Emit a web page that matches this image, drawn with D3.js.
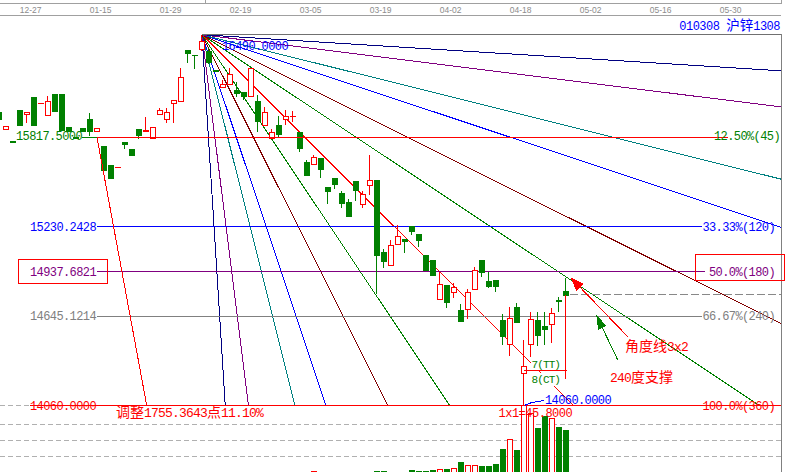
<!DOCTYPE html>
<html>
<head>
<meta charset="utf-8">
<script src="https://cdn.jsdelivr.net/npm/d3@7"></script>
<style>
  html, body { margin: 0; padding: 0; background: #fff; overflow: hidden; }
  text { white-space: pre; }
</style>
</head>
<body>
<svg id="chart" width="787" height="472"></svg>
<script>
// ---- data: SHFE zinc 1308 daily bars (first bar index is -1) ----
const firstBar = -1;
const open  = [15980,15870,15790,15995,15970,16080,16045,15965,16100,16100,15885,15820,15880,15935,15860,15760,15635,15620,15785,15740,15870,15860,15810,15970,15940,16045,16055,16390,16360,16395,16380,16260,16150,16170,16125,16115,16085,16055,15895,15815,15895,15935,15955,15850,15655,15645,15680,15490,15550,15450,15395,15530,15380,15505,15535,15065,14980,15120,15150,15235,15185,15045,15010,14755,14850,14805,14685,14690,14820,15015,14875,14880,14620,14460,14705,14270,14460,14620,14580,14590,14750,14810];
const high  = [15990,15890,15790,15995,15980,16080,16045,16090,16100,16100,15885,15820,15880,15975,15875,15760,15635,15620,15785,15740,15870,15950,15885,16010,16010,16060,16270,16390,16360,16490,16405,16260,16195,16270,16180,16115,16270,16095,16015,15870,15955,15995,15990,15850,15670,15700,15680,15490,15550,15465,15415,15530,15465,15700,15535,15085,15145,15240,15150,15235,15185,15045,15010,14935,14850,14860,14725,14820,14965,15015,14935,14880,14660,14705,14730,14490,14675,14675,14675,14695,14770,14895];
const low   = [15925,15870,15785,15895,15915,15900,16045,15965,15990,15865,15860,15815,15860,15830,15860,15590,15550,15620,15745,15700,15810,15860,15810,15970,15915,15920,16055,16310,16270,16390,16305,16255,16145,16170,16085,16070,16085,15860,15895,15815,15825,15905,15925,15725,15570,15645,15560,15385,15485,15360,15300,15405,15360,15445,14795,14970,14980,15120,15065,15185,15105,14950,14915,14755,14705,14770,14615,14630,14820,14910,14835,14810,14465,14390,14605,14060,14380,14455,14460,14475,14680,14785];
const close = [15935,15890,15785,15895,15980,15900,16045,16055,15990,15865,15860,15815,15860,15860,15875,15600,15550,15620,15775,15700,15835,15865,15885,15995,15985,16060,16210,16370,16355,16450,16310,16255,16170,16235,16105,16085,16270,15925,15985,15850,15840,15955,15955,15745,15570,15685,15610,15465,15510,15385,15300,15470,15445,15535,15045,15005,15110,15170,15135,15205,15145,14950,14915,14855,14735,14835,14615,14800,14950,14935,14845,14845,14515,14630,14605,14320,14625,14520,14560,14665,14745,14785];
const volume = [0,0,0,0,0,0,0,0,0,0,0,0,0,0,0,0,0,0,0,0,0,0,0,0,0,0,0,0,0,0,0,0,0,0,0,0,0,0,0,0,0,0,0,0,0,300,0,0,0,0,0,0,0,0,300,300,0,0,0,600,300,400,700,800,1000,1200,3100,2100,2100,1900,1900,2500,6900,9900,6600,20100,17600,13300,16900,16100,13600,12600];

// date axis
const tickBars   = [3, 13, 23, 33, 43, 53, 63, 73, 83, 93, 103];
const tickLabels = ["12-27","01-15","01-29","02-19","03-05","03-19","04-02","04-18","05-02","05-16","05-30"];
const volumeTicks = [4800, 9600, 14400];

// Gann fan from the swing high
const apexBar = 28, apexPrice = 16490, lowPrice = 14060, lowBar = 74;
const unit = 45.8;                       // 1x1 = price per bar
const fanRatios = [16, 8, 4, 3, 2, 1.5, 1, 2/3, 1/2, 1/3, 1/4, 1/8, 1/16, 0];
const fanColors = ["#000080","#800080","#008080","#0000ff","#800000","#008000","#ff0000","#008000","#800000","#0000ff","#008080","#800080","#000080","#707070"];

// retracement levels
const levelValues = [15817.5, 15230.2428, 14937.6821, 14645.1214, 14060];
const levelTags   = ["12.50%(45)", "33.33%(120)", "50.0%(180)", "66.67%(240)", "100.0%(360)"];
const levelColors = ["#008000", "#0000ff", "#800080", "#808080", "#ff0000"];

// pullback measurement
const adjStart = [13, 15817.5], adjEnd = [20.1, 14060];
const adjPoints = 1755.3643, adjPct = 11.10;

// time count box from the low
const countEndBar = 80, countLinePrice = 14291, countBottomPrice = 14230;
const countTags = ["7(TT)", "8(CT)"];

// notes
const redArrow   = { tail: [88.86, 14508], tip: [80.79, 14892] };
const greenArrow = { tail: [87.36, 14360], tip: [84.43, 14642] };
const lowLeader  = [[74.1, 14060], [75.1, 14078], [76.85, 14091]];

const title = "010308 沪锌1308";

// ---- drawing ----
const svg = d3.select("#chart");
const W = 787, H = 472;
const RED = "#ff0000", GREEN = "#008000", BLUE = "#0000ff";

const x = d3.scaleLinear().domain([0, 110]).range([6, 776]);
const y = d3.scaleLinear().domain([lowPrice, apexPrice]).range([405.3, 34.7]);
const vy = d3.scaleLinear().domain([0, 20100]).range([472, 405]);
const px = v => Math.round(v - 0.5) + 0.5;
const rightEdge = 781;
const rightBar = x.invert(rightEdge);

svg.append("rect").attr("width", W).attr("height", H).attr("fill", "#fff");

// text with separate sizing for CJK and Latin runs
function mixed(sel, str, o) {
  const t = sel.append("text")
    .attr("x", o.x).attr("y", o.y)
    .attr("fill", o.fill)
    .attr("text-anchor", o.anchor || "start");
  const runs = str.match(/[\u3000-\u9fff]+|[^\u3000-\u9fff]+/g);
  runs.forEach(r => {
    const cjk = /[\u3000-\u9fff]/.test(r);
    t.append("tspan").text(r)
      .attr("font-family", cjk ? "'Noto Sans CJK SC', sans-serif" : "'Liberation Mono', monospace")
      .attr("font-size", cjk ? o.cjk : o.size)
      .attr("letter-spacing", cjk ? 0 : (o.ls || 0));
  });
  return t;
}

// frame
const frame = svg.append("g").attr("shape-rendering", "crispEdges");
frame.append("line").attr("x1", 0).attr("x2", rightEdge).attr("y1", 3.5).attr("y2", 3.5).attr("stroke", "#a0a0a0");
frame.append("line").attr("x1", 0).attr("x2", rightEdge).attr("y1", 15.5).attr("y2", 15.5).attr("stroke", "#a0a0a0");
frame.append("line").attr("x1", 205.5).attr("x2", 205.5).attr("y1", 0).attr("y2", 3.5).attr("stroke", "#a0a0a0");
frame.append("line").attr("x1", rightEdge + 0.5).attr("x2", rightEdge + 0.5).attr("y1", 0).attr("y2", 3.5).attr("stroke", "#a0a0a0");
frame.append("line").attr("x1", rightEdge + 0.5).attr("x2", rightEdge + 0.5).attr("y1", 34).attr("y2", H).attr("stroke", "#808080");

// date axis labels
svg.append("g").selectAll("text").data(tickBars).join("text")
  .attr("x", d => x(d) + 3.7).attr("y", 13)
  .attr("text-anchor", "middle")
  .attr("font-family", "'Liberation Sans', Arial, sans-serif")
  .attr("font-size", 8.5).attr("fill", "#8c8c8c")
  .text((d, i) => tickLabels[i]);

mixed(svg, title, { x: 780, y: 30, anchor: "end", fill: BLUE, size: 12, ls: -0.5, cjk: 13.5 });

// volume grid
const vgrid = svg.append("g").attr("shape-rendering", "crispEdges");
[405.3].concat(volumeTicks.map(vy)).forEach(v => {
  vgrid.append("line").attr("x1", 0).attr("x2", rightEdge).attr("y1", px(v)).attr("y2", px(v))
    .attr("stroke", "#b0b0b0").attr("stroke-dasharray", "5,3");
});

// Gann fan
const fan = svg.append("g").attr("shape-rendering", "crispEdges");
fanRatios.forEach((r, k) => {
  let endBar = rightBar;
  if (r > 0) endBar = Math.min(rightBar, apexBar + (apexPrice - lowPrice) / (unit * r));
  const endPrice = apexPrice - unit * r * (endBar - apexBar);
  fan.append("line")
    .attr("x1", x(apexBar)).attr("y1", r === 0 ? px(y(apexPrice)) : y(apexPrice))
    .attr("x2", x(endBar)).attr("y2", r === 0 ? px(y(endPrice)) : y(endPrice))
    .attr("stroke", fanColors[k]);
});

// retracement levels (the 12.5% level is mostly covered by the pullback line)
const lv = svg.append("g").attr("shape-rendering", "crispEdges");
const fmt4 = d3.format(".4f");
const levelLayout = [
  { lx: 16, from: 82, to: 97, tagEnd: 780, dy: 3 },
  { lx: 30, from: 97, to: 701.5, tagEnd: 775, dy: 4.4 },
  { lx: 30, from: 97, to: 705, tagEnd: 775, dy: 4.6 },
  { lx: 30, from: 97, to: 701.5, tagEnd: 775, dy: 4.4 },
  { lx: 30, from: 30, to: rightEdge, tagEnd: 775, dy: 4.6 }
];
levelValues.forEach((v, i) => {
  const L = levelLayout[i], yy = px(y(v));
  lv.append("line").attr("x1", L.from).attr("x2", L.to).attr("y1", yy).attr("y2", yy).attr("stroke", levelColors[i]);
});

// last close reference
lv.append("line").attr("x1", x(80) + 4).attr("x2", rightEdge)
  .attr("y1", px(y(close[close.length - 1]))).attr("y2", px(y(close[close.length - 1])))
  .attr("stroke", "#888").attr("stroke-dasharray", "8,3");

// candles
const bars = d3.range(open.length).map(k => ({
  i: k + firstBar, o: open[k], h: high[k], l: low[k], c: close[k], v: volume[k]
}));
const cg = svg.append("g").attr("shape-rendering", "crispEdges");
bars.forEach(b => {
  const xc = Math.round(x(b.i));
  const up = b.c >= b.o;
  const col = up ? RED : GREEN;
  cg.append("line").attr("x1", xc - 0.5).attr("x2", xc - 0.5)
    .attr("y1", Math.round(y(b.h))).attr("y2", Math.round(y(b.l)) + 1).attr("stroke", col);
  const t = Math.round(y(Math.max(b.o, b.c))), bt = Math.round(y(Math.min(b.o, b.c)));
  if (bt - t < 1) {
    cg.append("line").attr("x1", xc - 3).attr("x2", xc + 3).attr("y1", t + 0.5).attr("y2", t + 0.5).attr("stroke", col);
  } else {
    cg.append("rect").attr("x", xc - 2.5).attr("y", t + 0.5).attr("width", 5).attr("height", bt - t)
      .attr("fill", up ? "#fff" : GREEN).attr("stroke", col);
  }
  // volume
  if (b.v > 0) {
    const vt = Math.round(vy(b.v)), hgt = H - vt;
    if (hgt <= 2) {
      cg.append("rect").attr("x", xc - 3).attr("y", vt).attr("width", 6).attr("height", Math.max(hgt, 1)).attr("fill", col);
    } else {
      cg.append("rect").attr("x", xc - 2.5).attr("y", vt + 0.5).attr("width", 5).attr("height", hgt + 2)
        .attr("fill", up ? "#fff" : GREEN).attr("stroke", col);
    }
  }
});

// pullback measurement lines, drawn above the bars
const adj = svg.append("g").attr("shape-rendering", "crispEdges");
adj.append("line").attr("x1", x(adjStart[0])).attr("x2", 728)
  .attr("y1", px(y(adjStart[1]))).attr("y2", px(y(adjStart[1])))
  .attr("stroke", RED);
adj.append("line").attr("x1", x(adjStart[0])).attr("y1", y(adjStart[1]))
  .attr("x2", x(adjEnd[0])).attr("y2", y(adjEnd[1])).attr("stroke", RED);

// the 100% line runs over the volume tops
adj.append("line")
  .attr("x1", 30).attr("x2", rightEdge).attr("y1", px(y(lowPrice))).attr("y2", px(y(lowPrice))).attr("stroke", RED);

// time count box
const tc = svg.append("g").attr("shape-rendering", "crispEdges");
const cy = px(y(countLinePrice));
tc.append("line").attr("x1", x(lowBar)).attr("x2", x(countEndBar) + 0.5).attr("y1", cy).attr("y2", cy).attr("stroke", RED);
tc.append("line").attr("x1", x(countEndBar) - 0.5).attr("x2", x(countEndBar) - 0.5)
  .attr("y1", Math.round(y(close[close.length - 1]))).attr("y2", Math.round(y(countBottomPrice))).attr("stroke", RED);
const midX = x((lowBar + countEndBar) / 2) + 0.8;
tc.append("rect").attr("x", 531).attr("y", cy - 13).attr("width", 29).attr("height", 12.5).attr("fill", "#fff");
tc.append("rect").attr("x", 531).attr("y", cy + 2).attr("width", 29).attr("height", 13).attr("fill", "#fff");
mixed(svg, countTags[0], { x: midX, y: cy - 3, anchor: "middle", fill: GREEN, size: 11, ls: -0.9, cjk: 11 });
mixed(svg, countTags[1], { x: midX, y: cy + 12, anchor: "middle", fill: GREEN, size: 11, ls: -0.9, cjk: 11 });

// level labels
levelValues.forEach((v, i) => {
  const L = levelLayout[i], yy = y(v);
  mixed(svg, fmt4(v), { x: L.lx, y: yy + L.dy, fill: levelColors[i], size: 12, ls: -0.6, cjk: 13 });
  mixed(svg, levelTags[i], { x: L.tagEnd, y: yy + L.dy, anchor: "end", fill: levelColors[i], size: 12, ls: -0.6, cjk: 13 });
});

// fan apex value and 1x1 unit
mixed(svg, fmt4(apexPrice), { x: 222, y: 50, fill: BLUE, size: 12, ls: -0.6, cjk: 13 });
mixed(svg, "1x1=" + fmt4(unit), { x: 498.5, y: 417, fill: RED, size: 12, ls: -0.5, cjk: 13 });

// leader to the low
svg.append("polyline").attr("points", lowLeader.map(p => [x(p[0]), y(p[1])].join(",")).join(" "))
  .attr("fill", "none").attr("stroke", BLUE).attr("shape-rendering", "crispEdges");
mixed(svg, fmt4(lowPrice), { x: 545, y: 403.5, fill: BLUE, size: 12, ls: -0.6, cjk: 13 });

// pullback note
mixed(svg, "调整" + fmt4(adjPoints) + "点" + adjPct.toFixed(2) + "%", { x: 116, y: 417, fill: RED, size: 13, ls: -0.8, cjk: 14 });

// arrows with notes
function arrow(a, color, len, half) {
  const x0 = x(a.tail[0]), y0 = y(a.tail[1]), x1 = x(a.tip[0]), y1 = y(a.tip[1]);
  const dx = x1 - x0, dy = y1 - y0, L = Math.hypot(dx, dy), ux = dx / L, uy = dy / L;
  const bx = x1 - ux * len, by = y1 - uy * len;
  svg.append("line").attr("x1", x0).attr("y1", y0).attr("x2", bx).attr("y2", by)
    .attr("stroke", color).attr("shape-rendering", "crispEdges");
  svg.append("polygon")
    .attr("points", [[x1, y1], [bx - uy * half, by + ux * half], [bx + uy * half, by - ux * half]].map(p => p.join(",")).join(" "))
    .attr("fill", color).attr("stroke", color).attr("shape-rendering", "crispEdges");
}
arrow(redArrow, RED, 12, 4.5);
arrow(greenArrow, GREEN, 12, 4);
mixed(svg, "角度线3x2", { x: 625, y: 350.5, fill: RED, size: 13, ls: -0.8, cjk: 14 });
mixed(svg, "240度支撑", { x: 610, y: 381.5, fill: RED, size: 13, ls: -0.8, cjk: 14 });

// highlight boxes around the 50% level
const hb = svg.append("g").attr("shape-rendering", "crispEdges");
hb.append("rect").attr("x", 18.5).attr("y", 259.5).attr("width", 89).attr("height", 24).attr("fill", "none").attr("stroke", RED);
hb.append("rect").attr("x", 695.5).attr("y", 254.5).attr("width", 89).attr("height", 26).attr("fill", "none").attr("stroke", RED);
</script>
</body>
</html>
